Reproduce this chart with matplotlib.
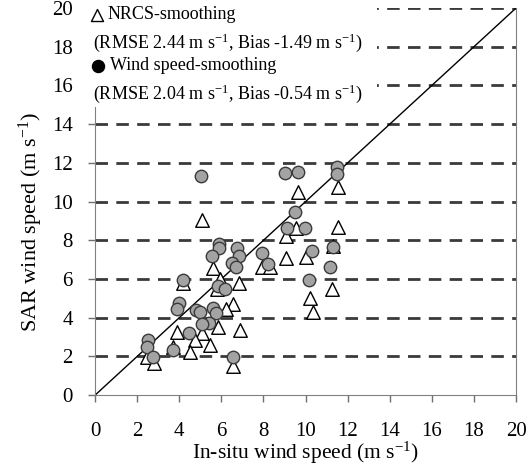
import matplotlib
matplotlib.use('Agg')
import matplotlib.pyplot as plt
from matplotlib.patches import Rectangle

plt.rcParams['font.family'] = 'Liberation Serif'
plt.rcParams['mathtext.fontset'] = 'custom'
plt.rcParams['mathtext.rm'] = 'Liberation Serif'
plt.rcParams['mathtext.it'] = 'Liberation Serif:italic'

# NRCS-smoothing (open triangles)
nrcs_x = [5.1, 9.65, 11.55, 9.55, 11.55, 9.05, 9.05, 10.0, 11.3, 5.6, 7.95, 8.3,
          6.85, 5.95, 11.25, 10.2, 10.35, 6.55, 6.2, 6.9, 5.85, 5.45, 5.1, 4.75,
          4.5, 3.9, 3.7, 2.45, 2.8, 6.55, 4.2, 5.8]
nrcs_y = [9.05, 10.5, 10.75, 8.65, 8.7, 8.2, 7.1, 7.15, 7.7, 6.55, 6.6, 6.6,
          5.8, 6.0, 5.5, 5.0, 4.3, 4.7, 4.45, 3.35, 3.5, 2.6, 3.2, 2.85,
          2.25, 3.25, 2.5, 1.95, 1.65, 1.5, 5.8, 5.5]

# Wind speed-smoothing (grey circles)
ws_x = [5.05, 9.0, 9.65, 11.5, 11.5, 9.5, 9.1, 9.95, 5.9, 5.9, 5.55, 6.75, 6.85,
        6.5, 6.7, 7.95, 8.2, 10.3, 11.3, 11.15, 10.15, 4.2, 5.85, 6.15, 4.0, 3.9,
        4.8, 5.0, 5.6, 5.75, 5.4, 5.1, 4.45, 2.5, 2.45, 3.7, 2.75, 6.55]
ws_y = [11.3, 11.45, 11.55, 11.8, 11.4, 9.45, 8.65, 8.65, 7.8, 7.6, 7.2, 7.6, 7.2,
        6.85, 6.6, 7.35, 6.8, 7.45, 7.65, 6.6, 5.95, 5.95, 5.65, 5.5, 4.75, 4.45,
        4.4, 4.3, 4.5, 4.25, 3.75, 3.7, 3.2, 2.85, 2.5, 2.35, 1.95, 1.95]

ticks = [0, 2, 4, 6, 8, 10, 12, 14, 16, 18, 20]

fig = plt.figure(figsize=(5.31, 4.66), dpi=100)
ax = fig.add_axes([0.179, 0.152, 0.793, 0.831])

ax.set_xlim(0, 20)
ax.set_ylim(0, 20)

for t in ticks[1:]:
    ax.axhline(t, color='#3a3a3a', lw=2, ls=(0, (4.5, 3)), zorder=1)

ax.plot([0, 20], [0, 20], color='black', lw=1, zorder=2)

ax.scatter(nrcs_x, nrcs_y, marker='^', s=95, facecolor='white',
           edgecolor='black', linewidths=1.0, zorder=3)
ax.scatter(ws_x, ws_y, marker='o', s=80, facecolor='#a3a3a3',
           edgecolor='#3a3a3a', linewidths=1.0, zorder=4)

ax.set_xticks(ticks)
ax.set_yticks(ticks)
ax.tick_params(direction='out', length=5, width=1, color='#707070',
               labelsize=15, pad=11)
ax.tick_params(axis='x', pad=14)
for s in ax.spines.values():
    s.set_color('#808080')
ax.spines['top'].set_visible(False)

# white block behind the legend text
ax.add_patch(Rectangle((-0.02, 0.745), 0.69, 0.3, transform=ax.transAxes,
                       facecolor='white', edgecolor='none', zorder=5,
                       clip_on=False))

unit = r' m s$^{\mathregular{-1}}$'
ax.scatter([0.005], [0.982], marker='^', s=75, facecolor='white',
           edgecolor='black', linewidths=1.0, transform=ax.transAxes,
           clip_on=False, zorder=6)
ax.text(0.03, 0.982, 'NRCS-smoothing', transform=ax.transAxes,
        fontsize=13, va='center', zorder=6)
ax.text(-0.005, 0.91, '(RMSE 2.44' + unit + ', Bias -1.49' + unit + ')',
        transform=ax.transAxes, fontsize=13, va='center', zorder=6)
ax.scatter([0.008], [0.851], marker='o', s=75, facecolor='black',
           edgecolor='black', transform=ax.transAxes, clip_on=False, zorder=6)
ax.text(0.036, 0.851, 'Wind speed-smoothing', transform=ax.transAxes,
        fontsize=13, va='center', zorder=6)
ax.text(-0.005, 0.778, '(RMSE 2.04' + unit + ', Bias -0.54' + unit + ')',
        transform=ax.transAxes, fontsize=13, va='center', zorder=6)

ax.set_xlabel(r'In-situ wind speed (m s$^{\mathregular{-1}}$)', fontsize=15.5)
ax.set_ylabel(r'SAR wind speed (m s$^{\mathregular{-1}}$)', fontsize=16)
ax.xaxis.set_label_coords(0.5, -0.116)
ax.yaxis.set_label_coords(-0.12, 0.447)

fig.savefig('out.png', dpi=100)
